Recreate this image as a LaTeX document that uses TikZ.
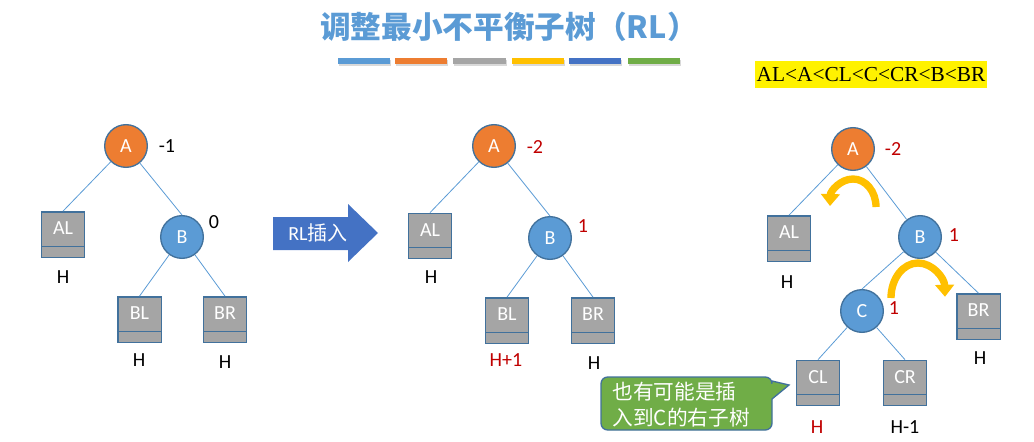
\documentclass[tikz,border=0pt]{standalone}
\usepackage{fontspec}
\setmainfont{Carlito}
\newfontfamily\cjk{Noto Sans CJK SC}
\newfontfamily\timesfont{Liberation Serif}
\usetikzlibrary{arrows.meta,shadows}

\definecolor{titleblue}{HTML}{5B9BD5}
\definecolor{nodeorange}{HTML}{ED7D31}
\definecolor{nodeblue}{HTML}{5B9BD5}
\definecolor{nodeline}{HTML}{41719C}
\definecolor{boxgray}{HTML}{A5A5A5}
\definecolor{bfred}{HTML}{C00000}
\definecolor{arrowblue}{HTML}{4472C4}
\definecolor{turngold}{HTML}{FFC000}
\definecolor{turndark}{HTML}{BF9000}
\definecolor{notegreen}{HTML}{70AD47}

\tikzset{every picture/.style={line width=0.75pt}}
\tikzset{
  avl/.style={circle, draw=nodeline, line width=1pt, minimum size=32pt, inner sep=0pt, text=white, font=\fontsize{15}{17}\selectfont},
  subtree/.style={rectangle, draw=nodeline, line width=1pt, fill=boxgray, minimum width=32.5pt, minimum height=34pt, inner sep=0pt, text=white, text height=6.5pt, text depth=6.5pt, font=\fontsize{15}{17}\selectfont,
    path picture={\draw[nodeline, line width=1pt] ([yshift=8.25pt]path picture bounding box.south west) -- ([yshift=8.25pt]path picture bounding box.south east);}},
  branch/.style={draw=titleblue, line width=0.6pt},
  lbl/.style={font=\fontsize{15}{17}\selectfont, inner sep=0pt},
  bf/.style={lbl, text=bfred},
  turn/.style={line width=5.5pt, turngold, -{Triangle[width=14pt, length=9pt]}},
  bar/.style={drop shadow={shadow xshift=0.6pt, shadow yshift=-1.5pt, opacity=0.3}},
}

\begin{document}
\begin{tikzpicture}[x=0.75pt,y=0.75pt,yscale=-1,xscale=1]
	\useasboundingbox (0,0) rectangle (1034,442);

	% Title
	\node[text=titleblue, font=\cjk\bfseries\fontsize{23}{27}\selectfont] (title) at (509,27) {调整最小不平衡子树（RL）};
	%Shape: Rectangle
	\fill[bar, titleblue] (338,58) rectangle (390,64);
	\fill[bar, nodeorange] (395,58) rectangle (447,64);
	\fill[bar, boxgray] (453,58) rectangle (506,64);
	\fill[bar, turngold] (512,58) rectangle (564,64);
	\fill[bar, arrowblue] (569,58) rectangle (621,64);
	\fill[bar, notegreen] (628,58) rectangle (680,64);
	% Text Node
	\node[fill=yellow, font=\timesfont\fontsize{16}{18}\selectfont, inner xsep=1pt, inner ysep=0pt, minimum height=20pt] (order) at (871,74.5) {AL<A<CL<C<CR<B<BR};

	% first tree
	\node[avl, fill=nodeorange] (A1) at (126,146) {A};
	\node[avl, fill=nodeblue] (B1) at (182,237) {B};
	\node[subtree] (AL1) at (63,234.5) {AL};
	\node[subtree] (BL1) at (139.5,319.5) {BL};
	\node[subtree] (BR1) at (225,319.5) {BR};
	\draw[branch] (A1) -- (AL1.north);
	\draw[branch] (A1) -- (B1.north);
	\draw[branch] (B1) -- (BL1.north);
	\draw[branch] (B1) -- (BR1.north);
	% Text Node
	\node[lbl] (fA1) at (167,146) {-1};
	\node[lbl] (fB1) at (214,222) {0};
	\node[lbl] (hAL1) at (63,277) {H};
	\node[lbl] (hBL1) at (139,360) {H};
	\node[lbl] (hBR1) at (225,362) {H};

	%Shape: Right Arrow
	\fill[arrowblue] (273,217) -- (348,217) -- (348,204) -- (378,233) -- (348,262) -- (348,250) -- (273,250) -- cycle;
	\node[text=white, font=\fontsize{15}{17}\selectfont] (ins) at (318,233) {RL\cjk 插入};

	% second tree
	\node[avl, fill=nodeorange] (A2) at (494,146) {A};
	\node[avl, fill=nodeblue] (B2) at (550,238) {B};
	\node[subtree] (AL2) at (430,236) {AL};
	\node[subtree] (BL2) at (507,320.5) {BL};
	\node[subtree] (BR2) at (593,320.5) {BR};
	\draw[branch] (A2) -- (AL2.north);
	\draw[branch] (A2) -- (B2.north);
	\draw[branch] (B2) -- (BL2.north);
	\draw[branch] (B2) -- (BR2.north);
	% Text Node
	\node[bf] (fA2) at (535,147) {-2};
	\node[bf] (fB2) at (583,226) {1};
	\node[lbl] (hAL2) at (431,277) {H};
	\node[bf] (hBL2) at (506,360) {H+1};
	\node[lbl] (hBR2) at (594,363) {H};

	% third tree
	\node[avl, fill=nodeorange] (A3) at (853,149) {A};
	\node[avl, fill=nodeblue] (B3) at (920,237) {B};
	\node[avl, fill=nodeblue] (C3) at (862,311) {C};
	\node[subtree] (AL3) at (789,238.5) {AL};
	\node[subtree] (BR3) at (978.5,316.5) {BR};
	\node[subtree] (CL3) at (818,383) {CL};
	\node[subtree] (CR3) at (905,383) {CR};
	\draw[branch] (A3) -- (AL3.north);
	\draw[branch] (A3) -- (B3);
	\draw[branch] (B3) -- (C3.north);
	\draw[branch] (B3) -- (BR3.north);
	\draw[branch] (C3) -- (CL3.north);
	\draw[branch] (C3) -- (CR3.north);
	% Text Node
	\node[bf] (fA3) at (893,149) {-2};
	\node[bf] (fB3) at (954,235) {1};
	\node[bf] (fC3) at (894,308) {1};
	\node[lbl] (hAL3) at (787,282) {H};
	\node[lbl] (hBR3) at (980,358) {H};
	\node[bf] (hCL3) at (817,427) {H};
	\node[lbl] (hCR3) at (905,427) {H-1};

	%Curve Lines
	\draw[turn] (876,207) arc[start angle=0, end angle=-178, x radius=23, y radius=28];
	\draw[turn] (891,298) arc[start angle=-180, end angle=-2, x radius=27, y radius=35];

	%Shape: Callout
	\draw[draw=nodeline, fill=notegreen, line width=1pt, rounded corners=5pt] (601,404) -- (601,377) -- (772,377) [sharp corners] -- (772,381) -- (789,385) -- (772,399) [rounded corners=5pt] -- (772,430) -- (601,430) -- cycle;
	\node[anchor=west, text=white, align=left, font=\cjk\fontsize{15.5}{19.5}\selectfont, inner sep=0pt] (hint) at (612,405) {也有可能是插\\入到C的右子树};

\end{tikzpicture}
\end{document}
